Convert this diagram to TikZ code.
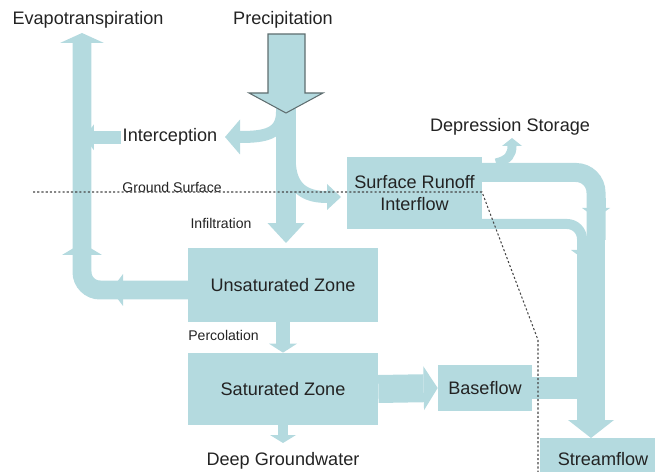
\documentclass[tikz,border=0pt]{standalone}
\usepackage{fontspec}
\setmainfont{Liberation Sans}
\usetikzlibrary{arrows.meta}
\definecolor{flowblue}{RGB}{180,218,223}
\definecolor{linegray}{RGB}{70,70,70}
\definecolor{headgray}{RGB}{95,110,112}
\definecolor{txtgray}{RGB}{35,35,35}
\newcommand{\flowfont}{\fontsize{10.3}{13}\selectfont}
\newcommand{\notefont}{\fontsize{8}{10}\selectfont}
\tikzset{
  band/.style={draw=flowblue, line width=#1},
  flowhead/.style 2 args={-{Triangle[width=#1,length=#2,line width=0pt]}},
  zone/.style={fill=flowblue, inner sep=0pt, text=txtgray, font=\flowfont, align=center},
  lbl/.style={inner sep=1pt, text=txtgray, font=\flowfont, anchor=base},
  note/.style={inner sep=1pt, text=txtgray, font=\notefont, anchor=base},
  ground/.style={draw=linegray, line width=0.6pt, dash pattern=on 1.2pt off 1.2pt}
}
\begin{document}
\begin{tikzpicture}[x=0.02cm,y=-0.02cm]
  \useasboundingbox (0,0) rectangle (655,472);
  \node[zone, minimum width=3.8cm, minimum height=1.48cm] (unsat) at (283,285) {Unsaturated Zone};
  \node[zone, minimum width=3.8cm, minimum height=1.44cm] (sat) at (283,389) {Saturated Zone};
  \node[zone, minimum width=1.88cm, minimum height=0.92cm] (base) at (485,388) {Baseflow};
  \node[zone, minimum width=2.52cm, minimum height=0.84cm] (stream) at (603,459) {Streamflow};
  \node[zone, minimum width=2.7cm, minimum height=1.44cm] (runoff) at (414.5,193) {Surface Runoff\\Interflow};
  \node[lbl] (evap) at (88,25) {Evapotranspiration};
  \node[lbl] (prec) at (283,25) {Precipitation};
  \node[lbl] (int) at (170,142) {Interception};
  \node[lbl] (dep) at (510,132) {Depression Storage};
  \node[note] (gs) at (172,193) {Ground Surface};
  \node[note] (inf) at (221,229) {Infiltration};
  \node[note] (perc) at (223.5,340) {Percolation};
  \node[lbl] (dgw) at (283,465) {Deep Groundwater};
  \coordinate (et0) at (188,290);
  \coordinate (et1) at (82,33);
  \coordinate (etx) at (84,0);
  \coordinate (intin) at (225,137);
  \coordinate (rin) at (341,197);
  \coordinate (infin) at (286,243);
  \coordinate (dgwin) at (283,443);
  \coordinate (depin) at (512,138);
  \coordinate (up0) at (478,172.5);
  \coordinate (lo0) at (478,224);
  \coordinate (sfin) at (591,438);
  \draw[band=0.38cm, rounded corners=0.36cm, flowhead={0.88cm}{0.2cm}] (et0) -| (et1);
  \draw[band=0.38cm, flowhead={0.64cm}{0.24cm}] (140,290) -- (111,290);
  \draw[band=0.38cm, flowhead={0.8cm}{0.24cm}] (82,270) -- (82,243);
  \draw[band=0.26cm, flowhead={0.52cm}{0.2cm}] (int.west) -- (int.west -| etx);
  \draw[band=0.4cm, flowhead={0.74cm}{0.4cm}] (286,108) -- (infin);
  \draw[band=0.24cm, flowhead={0.7cm}{0.3cm}] (282,112) .. controls (282,134) and (265,137) .. (intin);
  \draw[band=0.24cm, flowhead={0.52cm}{0.28cm}] (290,165) .. controls (292,192) and (310,197) .. (rin);
  \draw[band=0.28cm, flowhead={0.56cm}{0.18cm}] (unsat.south) -- (sat.north);
  \draw[band=0.2cm, flowhead={0.52cm}{0.16cm}] (sat.south) -- (dgwin);
  \draw[band=0.56cm, flowhead={0.88cm}{0.28cm}] (sat.east) -- (base.west);
  \draw[band=0.18cm, flowhead={0.4cm}{0.16cm}] (496,163) .. controls (509,160) and (512,154) .. (depin);
  \draw[band=0.38cm, rounded corners=0.4cm] (up0) -| (596,240);
  \draw[band=0.38cm, flowhead={0.56cm}{0.2cm}] (596,198) -- (596,218);
  \draw[band=0.2cm, rounded corners=0.3cm] (lo0) -| (582,240);
  \draw[band=0.2cm, flowhead={0.44cm}{0.16cm}] (582,240) -- (582,258);
  \draw[band=0.44cm] (base.east) -- (592,388);
  \draw[band=0.56cm, flowhead={0.92cm}{0.36cm}] (591,236) -- (sfin);
  \draw[fill=flowblue, draw=headgray, line width=0.6pt] (268,34) -- (305,34) -- (305,93) -- (323,93) -- (286,113) -- (249,93) -- (268,93) -- cycle;
  \draw[ground] (33,192) -- (482,192) -- (538,340) -- (538,472);
\end{tikzpicture}
\end{document}
